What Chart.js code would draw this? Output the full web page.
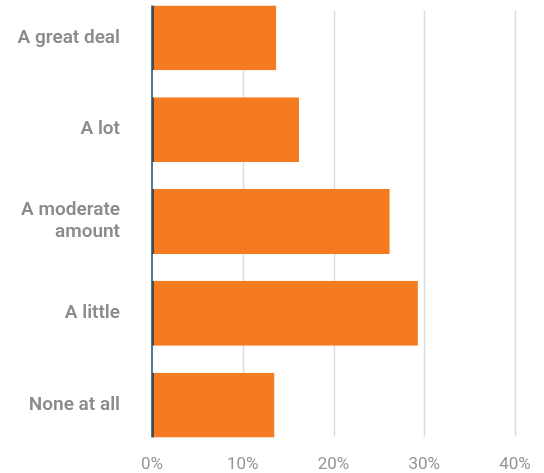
<!DOCTYPE html>
<html>
<head>
<meta charset="utf-8">
<script src="https://cdn.jsdelivr.net/npm/chart.js@4/dist/chart.umd.min.js"></script>
<style>
    html, body { margin: 0; padding: 0; background: #fff; overflow: hidden; }
    #amountChart { position: absolute; left: 0; top: -19px; }
</style>
</head>
<body>
<canvas id="amountChart" width="544" height="500"></canvas>
<script>
const categories = ['A great deal', 'A lot', ['A moderate', 'amount'], 'A little', 'None at all'];
const shares = [13.7, 16.2, 26.2, 29.3, 13.5];
const xTicks = [0, 10, 20, 30, 40];

const ORANGE = '#f47b20';
const LABEL_GRAY = '#8a8b8d';
const TICK_GRAY = '#929496';

// grid lines stop short of the plot edges, and the zero line spans only the bars
const gridPlugin = {
    id: 'shortGrid',
    beforeDatasetsDraw(chart) {
        const ctx = chart.ctx;
        const x = chart.scales.x;
        const meta = chart.getDatasetMeta(0);
        const top = meta.data[0].y - meta.data[0].height / 2;
        const bottom = meta.data[meta.data.length - 1].y + meta.data[0].height / 2;
        ctx.save();
        ctx.strokeStyle = '#dcdcdc';
        ctx.lineWidth = 1.5;
        xTicks.slice(1).forEach(t => {
            const px = Math.round(x.getPixelForValue(t)) + 0.5;
            ctx.beginPath();
            ctx.moveTo(px, top + 5);
            ctx.lineTo(px, bottom - 1);
            ctx.stroke();
        });
        ctx.strokeStyle = '#4f7897';
        ctx.lineWidth = 2;
        const zx = x.getPixelForValue(0);
        ctx.beginPath();
        ctx.moveTo(zx, top);
        ctx.lineTo(zx, bottom);
        ctx.stroke();
        ctx.restore();
    }
};

new Chart(document.getElementById('amountChart').getContext('2d'), {
    type: 'bar',
    data: {
        labels: categories,
        datasets: [{
            data: shares,
            backgroundColor: ORANGE,
            borderColor: '#4a4a4a',
            borderWidth: { left: 2, right: 0, top: 0, bottom: 0 },
            borderSkipped: false,
            categoryPercentage: 1,
            barPercentage: 0.707
        }]
    },
    options: {
        indexAxis: 'y',
        responsive: false,
        animation: false,
        layout: { padding: { left: 0, right: 29, top: 0, bottom: 0 } },
        plugins: {
            legend: { display: false },
            tooltip: { enabled: false }
        },
        scales: {
            x: {
                min: 0,
                max: 40,
                afterFit(scale) { scale.height = 30; },
                afterBuildTicks(scale) { scale.ticks = xTicks.map(v => ({ value: v })); },
                grid: { display: false, drawTicks: false },
                border: { display: false },
                ticks: {
                    padding: 4,
                    color: TICK_GRAY,
                    font: { family: 'Roboto', size: 17 },
                    callback: v => v + '%'
                }
            },
            y: {
                afterFit(scale) { scale.width = 152; },
                // transparent tick marks push the labels left without adding vertical padding
                grid: { display: true, drawOnChartArea: false, drawTicks: true, tickLength: 32, tickColor: 'rgba(0,0,0,0)' },
                border: { display: false },
                ticks: {
                    padding: 0,
                    color: LABEL_GRAY,
                    font: { family: 'Roboto', size: 19, weight: '600', lineHeight: 1.15 }
                }
            }
        }
    },
    plugins: [gridPlugin]
});
</script>
</body>
</html>
